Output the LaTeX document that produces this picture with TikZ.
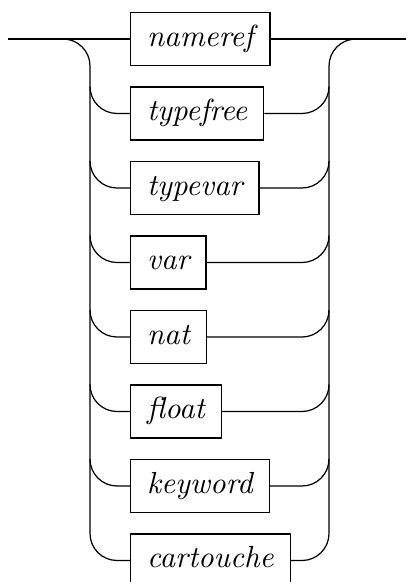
\documentclass[tikz,border=0pt]{standalone}
\usepackage{tikz}
\usetikzlibrary{calc}

\begin{document}
\begin{tikzpicture}[x=0.328pt, y=0.328pt,
    term/.style={draw, anchor=west, inner xsep=5.4pt, minimum height=17.4pt,
        text height=6.9pt, text depth=2pt, font=\itshape}]
    \useasboundingbox (0, 0) rectangle (407, -582);
    \coordinate (start) at (8, -39);
    \coordinate (finish) at (406, -39);
    \foreach \word [count=\i, evaluate=\i as \y using -39-74.5*(\i-1)] in
        {nameref, typefree, typevar, var, nat, float, keyword, cartouche}
        \node[term] (alt\i) at (130, \y) {\word};
    \draw (start) -- (alt1.west) (alt1.east) -- (finish);
    % rails
    \draw (63, -39) arc[start angle=90, end angle=0, radius=27] -- (90, -533.5);
    \draw (356, -39) arc[start angle=90, end angle=180, radius=27] -- (329, -533.5);
    \foreach \i in {2, ..., 8} {
        \draw (alt\i.west) -- ++(-13, 0) arc[start angle=270, end angle=180, radius=27];
        \draw (alt\i.east) -- ($(302, 0)!(alt\i.east)!(302, -1)$)
            arc[start angle=270, end angle=360, radius=27];
    }
\end{tikzpicture}
\end{document}
